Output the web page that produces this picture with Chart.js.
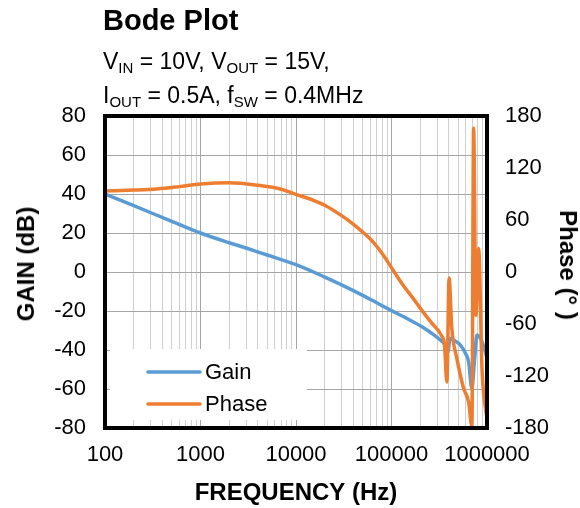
<!DOCTYPE html>
<html>
<head>
<meta charset="utf-8">
<title>Bode Plot</title>
<script src="https://cdn.jsdelivr.net/npm/chart.js@4.4.0/dist/chart.umd.min.js"></script>
<style>
  html, body { margin: 0; padding: 0; background: #fff; }
  #wrap { position: relative; width: 580px; height: 508px; font-family: Arial, "Liberation Sans", sans-serif; color: #000; }
  #bode { position: absolute; left: 0; top: 0; }
  .title { position: absolute; left: 103px; top: 6px; font-size: 29px; font-weight: bold; line-height: 1; }
  .sub { position: absolute; left: 103px; font-size: 23px; line-height: 1; white-space: nowrap; }
  .sub sub { font-size: 15px; vertical-align: -4px; line-height: 0; }
  .ytitle { position: absolute; font-size: 24px; font-weight: bold; white-space: nowrap; line-height: 1; transform: translate(-50%, -50%) rotate(-90deg); }
  .ytitle.right { transform: translate(-50%, -50%) rotate(90deg); }
</style>
</head>
<body>
<div id="wrap">
  <canvas id="bode" width="580" height="508"></canvas>
  <div class="title">Bode Plot</div>
  <div class="sub" style="top:50px">V<sub>IN</sub> = 10V, V<sub>OUT</sub> = 15V,</div>
  <div class="sub" style="top:84px">I<sub>OUT</sub> = 0.5A, f<sub>SW</sub> = 0.4MHz</div>
  <div class="ytitle" style="left:26px; top:264px">GAIN (dB)</div>
  <div class="ytitle right" style="left:568px; top:265px">Phase (° )</div>
</div>
<script>
  // values
  const gainFreq = [100, 200, 500, 1000, 2000, 3000, 5000, 10000, 20000, 30000, 50000, 70000, 100000, 150000, 207000, 264000, 300000, 336000, 360000, 390000, 410000, 450000, 524000, 600000, 642000, 695000, 740000, 785000, 886000, 1000000]
  const gainDb = [40, 34, 26, 20, 15, 12.3, 8.7, 3.8, -2.6, -6.6, -12, -15.8, -19.8, -24.2, -28, -31.5, -33.5, -35.5, -37, -41, -34, -35, -37.4, -42, -46, -59.7, -45, -32.3, -35.7, -44]

  const phaseFreq = [100, 200, 350, 600, 1000, 2000, 4000, 7000, 10000, 15000, 20000, 30000, 40000, 50000, 60000, 72000, 85000, 100000, 130000, 170000, 207000, 264000, 336000, 359000, 380000, 401000, 428000, 484000, 568000, 642000, 695000, 724000, 766000, 818000, 886000, 1000000]
  const phaseDeg = [93.5, 94.5, 95.8, 98.5, 101.5, 103, 100, 95.5, 89.5, 83, 77, 65, 55, 46, 38, 28, 17, 5, -14, -31, -44, -59, -74, -84, -127, -7, -65, -100, -134, -150, -178, 166, -50, 27, -111, -170]

  const freqLabels = [100, 1000, 10000, 100000, 1000000]
  const gainTicks = [-80, -60, -40, -20, 0, 20, 40, 60, 80]
  const phaseTicks = [-180, -120, -60, 0, 60, 120, 180]

  const FONT = 'Arial, "Liberation Sans", sans-serif'

  function toPoints(xs, ys) { return xs.map((x, i) => ({ x, y: ys[i] })) }

  // 1..9 per decade for the log grid
  function logGrid() {
    const out = []
    for (let d = 0; d < freqLabels.length - 1; d++) {
      for (let m = 1; m < 10; m++) out.push({ value: freqLabels[d] * m })
    }
    out.push({ value: freqLabels[freqLabels.length - 1] })
    return out
  }

  const insetLegend = {
    id: 'insetLegend',
    afterDatasetsDraw(chart) {
      const { ctx, chartArea } = chart
      ctx.save()
      ctx.fillStyle = '#fff'
      ctx.fillRect(chartArea.left + 5, chartArea.bottom - 79, 197, 71)
      chart.data.datasets.forEach((ds, i) => {
        const y = chartArea.bottom - 56 + i * 32
        ctx.strokeStyle = ds.borderColor
        ctx.lineWidth = 3.5
        ctx.lineCap = 'round'
        ctx.beginPath(); ctx.moveTo(chartArea.left + 43, y); ctx.lineTo(chartArea.left + 95, y); ctx.stroke()
        ctx.fillStyle = '#000'
        ctx.font = '22px ' + FONT
        ctx.textBaseline = 'middle'
        ctx.fillText(ds.label, chartArea.left + 100, y + 1)
      })
      ctx.restore()
    }
  }

  const plotFrame = {
    id: 'plotFrame',
    afterDraw(chart) {
      const { ctx, chartArea } = chart
      ctx.save()
      ctx.strokeStyle = '#000'
      ctx.lineWidth = 4
      ctx.strokeRect(chartArea.left, chartArea.top, chartArea.right - chartArea.left, chartArea.bottom - chartArea.top)
      ctx.restore()
    }
  }

  const tickFont = { family: FONT, size: 22 }
  const titleFont = { family: FONT, size: 24, weight: 'bold' }

  // eslint-disable-next-line no-undef
  new Chart(document.getElementById('bode').getContext('2d'), {
    type: 'line',
    data: {
      datasets: [
        { label: 'Gain', data: toPoints(gainFreq, gainDb), yAxisID: 'y', borderColor: '#5B9BD5', order: 1 },
        { label: 'Phase', data: toPoints(phaseFreq, phaseDeg), yAxisID: 'y1', borderColor: '#ED7D31', order: 0 }
      ]
    },
    options: {
      responsive: false,
      animation: false,
      layout: { padding: { top: 116, left: 0, right: 0, bottom: 0 } },
      elements: {
        point: { radius: 0, hoverRadius: 0 },
        line: { borderWidth: 3.5, cubicInterpolationMode: 'monotone', borderCapStyle: 'round', borderJoinStyle: 'round' }
      },
      plugins: { legend: { display: false }, tooltip: { enabled: false } },
      scales: {
        x: {
          type: 'logarithmic',
          min: 100,
          max: 1000000,
          afterBuildTicks: (s) => { s.ticks = logGrid() },
          afterFit: (s) => { s.height = 80 },
          ticks: {
            autoSkip: false, maxRotation: 0, padding: 14, color: '#000', font: tickFont,
            callback: (v) => freqLabels.includes(v) ? String(v) : ''
          },
          grid: {
            drawTicks: false,
            color: (c) => c.tick && freqLabels.includes(c.tick.value) ? '#a6a6a6' : '#cfcfcf'
          },
          border: { display: false },
          title: { display: true, text: 'FREQUENCY (Hz)', color: '#000', font: titleFont, padding: { top: 2, bottom: 0 } }
        },
        y: {
          position: 'left',
          min: -80,
          max: 80,
          afterBuildTicks: (s) => { s.ticks = gainTicks.map((v) => ({ value: v })) },
          afterFit: (s) => { s.width = 105 },
          ticks: { padding: 19, color: '#000', font: tickFont },
          grid: { drawTicks: false, color: '#a6a6a6' },
          border: { display: false }
        },
        y1: {
          position: 'right',
          min: -180,
          max: 180,
          afterBuildTicks: (s) => { s.ticks = phaseTicks.map((v) => ({ value: v })) },
          afterFit: (s) => { s.width = 93 },
          ticks: { padding: 18, color: '#000', font: tickFont },
          grid: { display: false, drawTicks: false },
          border: { display: false }
        }
      }
    },
    plugins: [insetLegend, plotFrame]
  })
</script>
</body>
</html>
